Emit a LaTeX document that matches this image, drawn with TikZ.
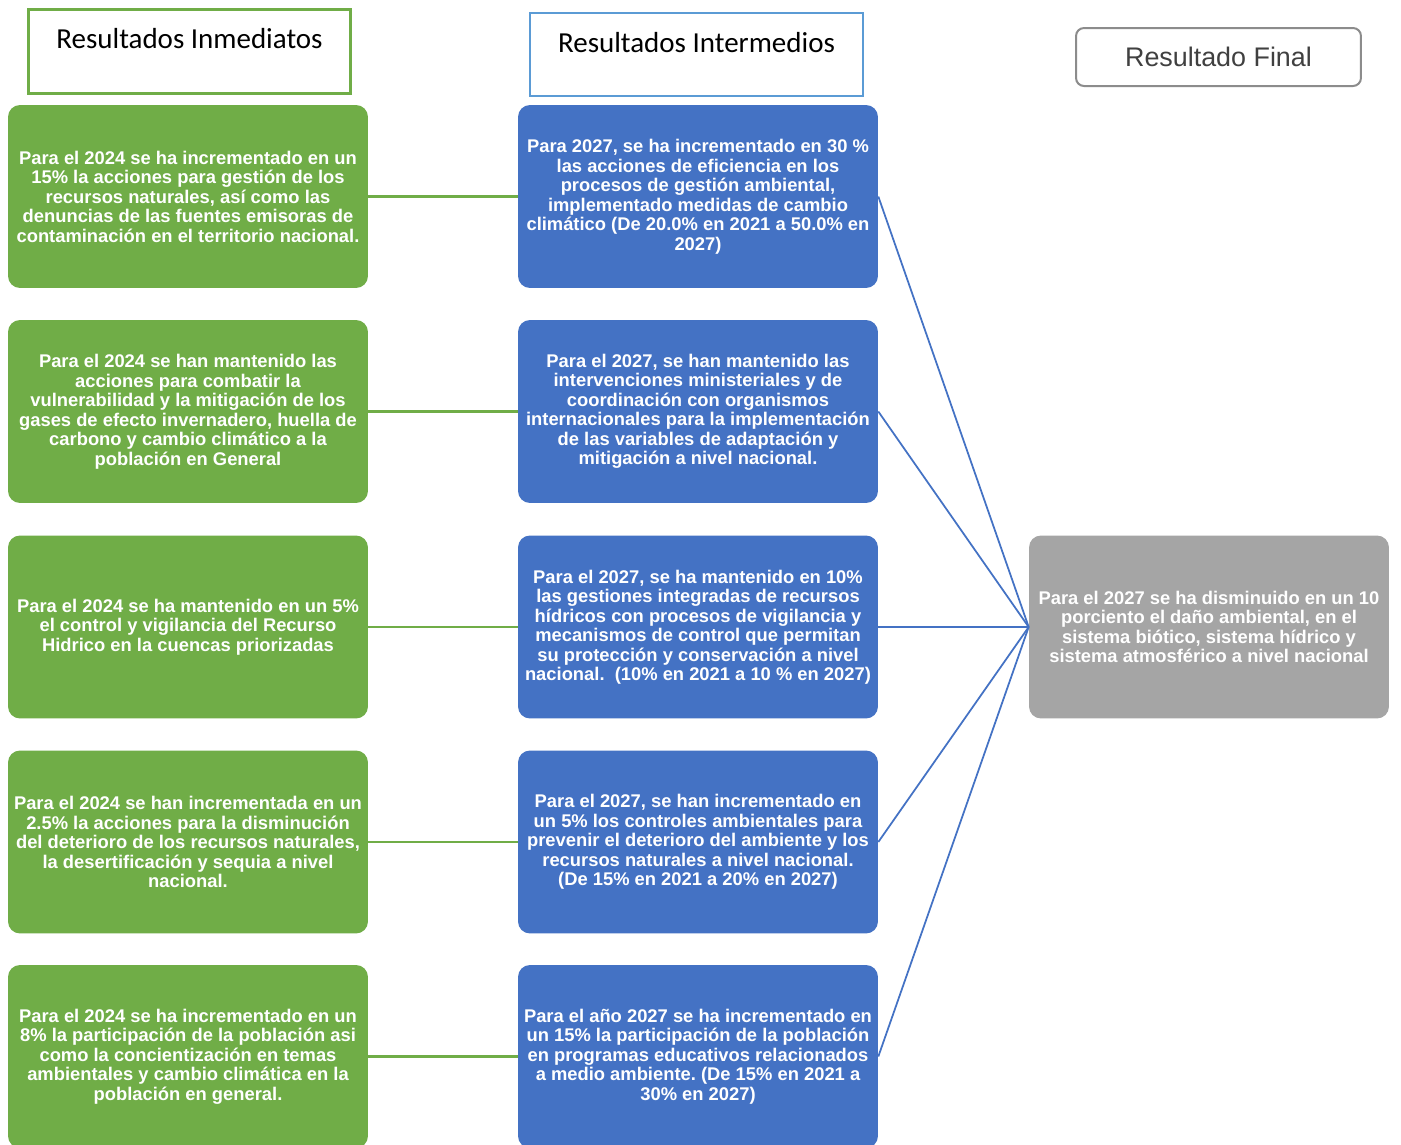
\documentclass[tikz,border=0pt]{standalone}
\usepackage{fontspec}
\setmainfont{Liberation Sans}
\newfontfamily\calibrifont{Carlito}
\usetikzlibrary{positioning}
\definecolor{verde}{HTML}{70AD47}
\definecolor{azul}{HTML}{4472C4}
\definecolor{gris}{HTML}{A5A5A5}
\definecolor{azulclaro}{HTML}{5B9BD5}
\definecolor{textogris}{HTML}{404040}

\begin{document}
\begin{tikzpicture}[x=0.02cm,y=-0.02cm]
  \tikzstyle{caja}=[rectangle, rounded corners=0.24cm, minimum width=7.2cm, minimum height=3.66cm, align=center, text=white, font=\bfseries\fontsize{10.45}{11.1}\selectfont, inner sep=0pt]
  \tikzstyle{inmediato}=[caja, fill=verde]
  \tikzstyle{intermedio}=[caja, fill=azul]
  \tikzstyle{final}=[caja, fill=gris]
  \tikzstyle{titulo}=[rectangle, anchor=north, align=center, text=black, font=\calibrifont\fontsize{16.5}{18}\selectfont, text height=0.58cm, inner ysep=0.2cm]
  \tikzstyle{enlaceverde}=[draw=verde, line width=0.045cm]
  \tikzstyle{enlaceazul}=[draw=azul, line width=0.035cm]
  \useasboundingbox[fill=white] (0,0) rectangle (1401,1144);

  % encabezados
  \node[titulo, draw=verde, line width=0.06cm, minimum width=6.46cm, text depth=0.7cm] (tinm) at (189.5,8) {Resultados Inmediatos};
  \node[titulo, draw=azulclaro, line width=0.045cm, minimum width=6.66cm, text depth=0.68cm] (tint) at (696.5,12) {Resultados Intermedios};
  \node[rectangle, rounded corners=0.16cm, draw=gris!85!black, line width=0.04cm, minimum width=5.7cm, minimum height=1.16cm, text=textogris, font=\fontsize{15.3}{17}\selectfont] (tfin) at (1218.5,57) {Resultado Final};

  % resultados inmediatos
  \node[inmediato] (inm1) at (188,196.5) {Para el 2024 se ha incrementado en un\\15\% la acciones para gestión de los\\recursos naturales, así como las\\denuncias de las fuentes emisoras de\\contaminación en el territorio nacional.};
  \node[inmediato] (inm2) at (188,411.5) {Para el 2024 se han mantenido las\\acciones para combatir la\\vulnerabilidad y la mitigación de los\\gases de efecto invernadero, huella de\\carbono y cambio climático a la\\población en General};
  \node[inmediato] (inm3) at (188,627) {Para el 2024 se ha mantenido en un 5\%\\el control y vigilancia del Recurso\\Hidrico en la cuencas priorizadas};
  \node[inmediato] (inm4) at (188,842) {Para el 2024 se han incrementada en un\\2.5\% la acciones para la disminución\\del deterioro de los recursos naturales,\\la desertificación y sequia a nivel\\nacional.};
  \node[inmediato] (inm5) at (188,1056.5) {Para el 2024 se ha incrementado en un\\8\% la participación de la población asi\\como la concientización en temas\\ambientales y cambio climática en la\\población en general.};

  % resultados intermedios
  \node[intermedio] (int1) at (698,196.5) {Para 2027, se ha incrementado en 30 \%\\las acciones de eficiencia en los\\procesos de gestión ambiental,\\implementado medidas de cambio\\climático (De 20.0\% en 2021 a 50.0\% en\\2027)};
  \node[intermedio] (int2) at (698,411.5) {Para el 2027, se han mantenido las\\intervenciones ministeriales y de\\coordinación con organismos\\internacionales para la implementación\\de las variables de adaptación y\\mitigación a nivel nacional.};
  \node[intermedio] (int3) at (698,627) {Para el 2027, se ha mantenido en 10\%\\las gestiones integradas de recursos\\hídricos con procesos de vigilancia y\\mecanismos de control que permitan\\su protección y conservación a nivel\\nacional.\ \ (10\% en 2021 a 10 \% en 2027)};
  \node[intermedio] (int4) at (698,842) {Para el 2027, se han incrementado en\\un 5\% los controles ambientales para\\prevenir el deterioro del ambiente y los\\recursos naturales a nivel nacional.\\(De 15\% en 2021 a 20\% en 2027)};
  \node[intermedio] (int5) at (698,1056.5) {Para el año 2027 se ha incrementado en\\un 15\% la participación de la población\\en programas educativos relacionados\\a medio ambiente.\@ (De 15\% en 2021 a\\30\% en 2027)};

  % resultado final
  \node[final] (fin) at (1209,627) {Para el 2027 se ha disminuido en un 10\\porciento el daño ambiental, en el\\sistema biótico, sistema hídrico y\\sistema atmosférico a nivel nacional};

  % conexiones
  \draw[enlaceverde] (inm1.east) -- (int1.west);
  \draw[enlaceverde] (inm2.east) -- (int2.west);
  \draw[enlaceverde] (inm3.east) -- (int3.west);
  \draw[enlaceverde] (inm4.east) -- (int4.west);
  \draw[enlaceverde] (inm5.east) -- (int5.west);
  \draw[enlaceazul] (int1.east) -- (fin.west);
  \draw[enlaceazul] (int2.east) -- (fin.west);
  \draw[enlaceazul] (int3.east) -- (fin.west);
  \draw[enlaceazul] (int4.east) -- (fin.west);
  \draw[enlaceazul] (int5.east) -- (fin.west);
\end{tikzpicture}
\end{document}
